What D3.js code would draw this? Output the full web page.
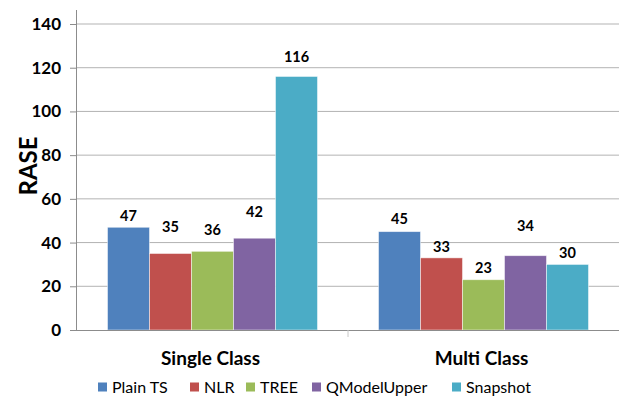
<!DOCTYPE html>
<html>
<head>
<meta charset="utf-8">
<script src="https://cdn.jsdelivr.net/npm/d3@7"></script>
<style>
  html, body { margin: 0; padding: 0; background: #fff; }
  svg { display: block; font-family: Lato, "Open Sans", sans-serif; }
</style>
</head>
<body>
<svg id="chart" width="619" height="401"></svg>
<script>
// Groups along the x axis
const categories = ["Single Class", "Multi Class"];
// One series per method, values per group
const seriesNames = ["Plain TS", "NLR", "TREE", "QModelUpper", "Snapshot"];
const plainTS = [47, 45];
const nlr = [35, 33];
const tree = [36, 23];
const qModelUpper = [42, 34];
const snapshot = [116, 30];
const yTicks = [0, 20, 40, 60, 80, 100, 120, 140];

const seriesValues = [plainTS, nlr, tree, qModelUpper, snapshot];
const colors = ["#4F81BD", "#C0504D", "#9BBB59", "#8064A2", "#4BACC6"];
// how far each value label sits above its bar (px), per series per group
const labelLift = [[11, 13], [27, 11], [21, 12], [26, 30], [20, 12]];

const svg = d3.select("#chart");
const margin = { left: 77, right: 0, top: 24, bottom: 71 };
const W = 619, H = 401;
const plotBottom = H - margin.bottom;

const x0 = d3.scaleBand().domain(categories)
  .range([margin.left, W - margin.right]).paddingInner(0).paddingOuter(0);
const groupWidth = 210;
const x1 = d3.scaleBand().domain(seriesNames)
  .range([0, groupWidth]).padding(0);
const y = d3.scaleLinear().domain([0, 140]).range([plotBottom, margin.top]);

// gridlines
svg.append("g").selectAll("line").data(yTicks.filter(d => d > 0)).join("line")
  .attr("x1", margin.left).attr("x2", W)
  .attr("y1", d => y(d)).attr("y2", d => y(d))
  .attr("stroke", "#b3b3b3").attr("stroke-width", 1);

// y axis
const yAxis = d3.axisLeft(y).tickValues(yTicks).tickSize(7).tickPadding(9);
const gy = svg.append("g").attr("transform", `translate(${margin.left},0)`).call(yAxis);
gy.select(".domain").attr("stroke", "#8c8c8c").attr("d", `M-0.5,${margin.top - 14}V${plotBottom}`);
gy.selectAll(".tick line").attr("stroke", "#8c8c8c");
gy.selectAll(".tick text").attr("font-size", 17).attr("font-weight", "bold")
  .attr("fill", "#000").attr("font-family", "Lato, sans-serif");

// bars
const data = [];
categories.forEach((c, ci) => {
  seriesNames.forEach((s, si) => {
    data.push({ cat: c, ci, series: s, si, value: seriesValues[si][ci] });
  });
});
const groupOffset = (x0.bandwidth() - groupWidth) / 2;

svg.append("g").selectAll("rect").data(data).join("rect")
  .attr("x", d => x0(d.cat) + groupOffset + x1(d.series))
  .attr("y", d => y(d.value))
  .attr("width", x1.bandwidth())
  .attr("height", d => plotBottom - y(d.value))
  .attr("fill", d => colors[d.si])
  .attr("stroke", "rgba(255,255,255,0.6)").attr("stroke-width", 0.8);

// value labels
svg.append("g").selectAll("text").data(data).join("text")
  .attr("x", d => x0(d.cat) + groupOffset + x1(d.series) + x1.bandwidth() / 2)
  .attr("y", d => y(d.value) - labelLift[d.si][d.ci])
  .attr("dy", "0.35em")
  .attr("text-anchor", "middle")
  .attr("font-size", 14.5).attr("font-weight", "bold").attr("fill", "#000")
  .text(d => d.value);

// x axis
const gx = svg.append("g").attr("transform", `translate(0,${plotBottom})`);
gx.append("line").attr("x1", margin.left - 7).attr("x2", W)
  .attr("y1", 0.5).attr("y2", 0.5).attr("stroke", "#8c8c8c");
gx.selectAll(".sep").data([x0("Multi Class")]).join("line")
  .attr("x1", d => d).attr("x2", d => d).attr("y1", 0).attr("y2", 7)
  .attr("stroke", "#c8c8c8");
gx.selectAll(".cat").data(categories).join("text")
  .attr("x", d => x0(d) + x0.bandwidth() / 2 - 2)
  .attr("y", 28)
  .attr("dy", "0.35em")
  .attr("text-anchor", "middle")
  .attr("font-size", 19).attr("font-weight", "bold").attr("fill", "#000")
  .text(d => d);

// y title
svg.append("text")
  .attr("transform", `translate(29,166) rotate(-90)`)
  .attr("text-anchor", "middle").attr("dy", "0.35em")
  .attr("font-size", 24).attr("font-weight", "bold").attr("fill", "#000")
  .text("RASE");

// legend
const legendX = [98, 190, 246, 312, 452];
const lg = svg.append("g").selectAll("g").data(seriesNames).join("g")
  .attr("transform", (d, i) => `translate(${legendX[i]},387)`);
lg.append("rect").attr("x", 0).attr("y", -4.5).attr("width", 9).attr("height", 9)
  .attr("fill", (d, i) => colors[i]);
lg.append("text").attr("x", 14).attr("dy", "0.35em")
  .attr("font-size", 16).attr("fill", "#000").text(d => d);
</script>
</body>
</html>
